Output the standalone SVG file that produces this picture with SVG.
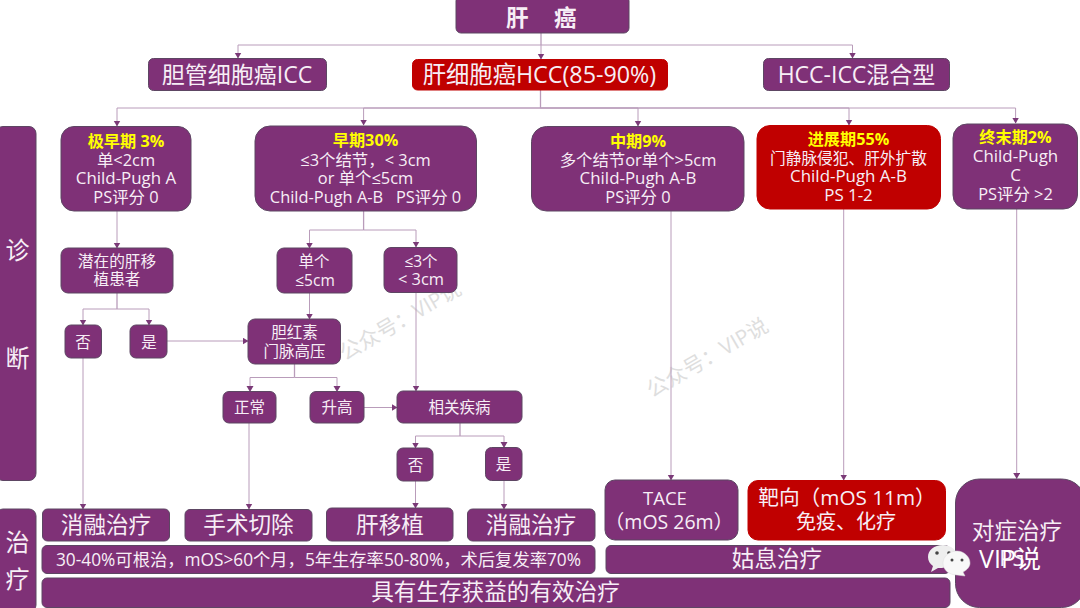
<svg xmlns="http://www.w3.org/2000/svg" width="1080" height="608" viewBox="0 0 1080 608">
<style>
text{font-family:"Open Sans","Noto Sans CJK SC",sans-serif;fill:#f7eef6;text-anchor:middle}
.p{fill:#7f3177;stroke:#5d4663;stroke-width:1}
.r{fill:#c00000;stroke:#c00000;stroke-width:1}
.c path{fill:none;stroke:#b99cba;stroke-width:1.3}
.c .a{stroke-width:1;stroke:#b99cba;marker-end:url(#ah)}
.y{fill:#ffff00;font-weight:700;font-size:16.2px}
.s15{font-size:16.4px}.cj{font-size:15.7px}.la{font-size:16.9px}.sm{font-size:15.5px}.s23{font-size:23px}.s22{font-size:22.6px}.s24{font-size:24px}.s20{font-size:20px}.s17{font-size:17.3px}
.wm{font-size:21px;fill:#c9c9c9;opacity:.6}
</style>
<defs>
<marker id="ah" markerWidth="8" markerHeight="8" refX="5.500" refY="3.500" orient="auto" markerUnits="userSpaceOnUse"><path d="M0 0L6 3.500L0 7Z" fill="#7b3a78"/></marker>
</defs>
<rect width="1080" height="608" fill="#fff"/>
<g id="watermarks">
<text class="wm" transform="translate(404 327) rotate(-30)">公众号：VIP说</text>
<text class="wm" transform="translate(711 364) rotate(-30)">公众号：VIP说</text>
</g>
<g class="c" id="connectors">
<path d="M541 33V45"/>
<path class="a" d="M541 45H238V58"/><path class="a" d="M541 45V59"/><path class="a" d="M541 45H852.500V58"/>
<path d="M540.500 90V108"/>
<path class="a" d="M540 108H117V126"/><path class="a" d="M540 108H363.600V125"/><path class="a" d="M540 108H638V126"/><path class="a" d="M540 108H849V125"/><path class="a" d="M540 108H1015.600V123"/>
<path class="a" d="M117 211V248"/>
<path d="M117 293V309"/><path class="a" d="M117 309H83V325"/><path class="a" d="M117 309H149V325"/>
<path d="M363.600 211V230"/><path class="a" d="M363.600 230H309.500V248"/><path class="a" d="M363.600 230H416V247"/>
<path class="a" d="M309.500 293V319"/>
<path class="a" d="M416 293V391"/>
<path class="a" d="M167 341H248"/>
<path d="M294.500 364V377.500"/><path class="a" d="M294.500 377.500H250V391.500"/><path class="a" d="M294.500 377.500H337V391.500"/>
<path class="a" d="M364 407.500H397"/>
<path d="M460 423V436"/><path class="a" d="M460 436H415.500V448"/><path class="a" d="M460 436H504V447.500"/>
<path class="a" d="M83 358V509"/>
<path class="a" d="M249 423V509"/>
<path class="a" d="M415.500 481V508"/>
<path class="a" d="M504 480.500V509"/>
<path class="a" d="M671 211V480"/>
<path class="a" d="M843.700 209V480"/>
<path class="a" d="M1016.700 209V478.500"/>
</g>
<g id="n-title"><rect class="p" x="456" y="-4" width="173" height="37" rx="5"/><text x="542" y="26" style="font-size:22.5px;font-weight:700;letter-spacing:1.500px">肝　癌</text></g>
<g id="n-icc"><rect class="p" x="148.500" y="58.500" width="178" height="32" rx="5"/><text class="s23" x="237" y="83">胆管细胞癌ICC</text></g>
<g id="n-hcc"><rect class="r" x="412.500" y="59.500" width="255" height="30.500" rx="5"/><text x="539.500" y="83" style="font-size:23.300px">肝细胞癌HCC(85-90%)</text></g>
<g id="n-mix"><rect class="p" x="763.500" y="58.500" width="186" height="32" rx="5"/><text class="s23" x="856.500" y="83">HCC-ICC混合型</text></g>
<g id="n-diag"><rect class="p" x="-4" y="126.500" width="40" height="354" rx="7"/><text class="s24" x="17.500" y="259">诊</text><text class="s24" x="17.500" y="367">断</text></g>
<g id="n-treat"><rect class="p" x="-4" y="509" width="40" height="103" rx="7"/><text class="s24" x="17.500" y="551">治</text><text class="s24" x="17.500" y="588">疗</text></g>
<g id="n-s1"><rect class="p" x="61" y="126.500" width="130" height="84.500" rx="13"/><text class="y" x="126" y="147">极早期 3%</text><text class="s15" x="126" y="166">单&lt;2cm</text><text class="la" x="126" y="184">Child-Pugh A</text><text class="s15" x="126" y="203">PS评分 0</text></g>
<g id="n-s2"><rect class="p" x="255" y="126" width="221.500" height="85" rx="15"/><text class="y" x="365.500" y="146">早期30%</text><text class="s15" x="365.500" y="166">≤3个结节，&lt; 3cm</text><text class="s15" x="365.500" y="184">or 单个≤5cm</text><text class="s15" x="365.500" y="203">Child-Pugh A-B&#160;&#160;&#160;PS评分 0</text></g>
<g id="n-s3"><rect class="p" x="531.500" y="126.500" width="212.500" height="84.500" rx="15"/><text class="y" x="638" y="147">中期9%</text><text class="s15" x="638" y="166">多个结节or单个&gt;5cm</text><text class="la" x="638" y="184">Child-Pugh A-B</text><text class="s15" x="638" y="203">PS评分 0</text></g>
<g id="n-s4"><rect class="r" x="757" y="125.500" width="183.500" height="83.500" rx="13"/><text class="y" x="848.500" y="145">进展期55%</text><text class="cj" x="848.500" y="164">门静脉侵犯、肝外扩散</text><text class="la" x="848.500" y="182">Child-Pugh A-B</text><text class="la" x="848.500" y="201">PS 1-2</text></g>
<g id="n-s5"><rect class="p" x="953" y="124" width="124.500" height="85" rx="14"/><text class="y" x="1015.500" y="143">终末期2%</text><text class="la" x="1015.500" y="162">Child-Pugh</text><text class="la" x="1015.500" y="181">C</text><text class="s15" x="1015.500" y="200">PS评分 &gt;2</text></g>
<g id="n-liver"><rect class="p" x="61" y="248" width="112" height="45" rx="7"/><text class="cj" x="117" y="267">潜在的肝移</text><text class="cj" x="117" y="285">植患者</text></g>
<g id="n-single"><rect class="p" x="277" y="248" width="75" height="45" rx="7"/><text class="sm" x="314" y="267">单个</text><text class="sm" x="315" y="286">≤5cm</text></g>
<g id="n-three"><rect class="p" x="384" y="247.500" width="73" height="45" rx="7"/><text class="sm" x="421" y="267">≤3个</text><text class="s15" x="421" y="285">&lt; 3cm</text></g>
<g id="n-no1"><rect class="p" x="65" y="325" width="36.500" height="33" rx="6"/><text class="sm" x="83" y="348">否</text></g>
<g id="n-yes1"><rect class="p" x="130" y="325" width="37" height="33" rx="6"/><text class="sm" x="149" y="348">是</text></g>
<g id="n-bili"><rect class="p" x="248" y="319" width="92.500" height="45" rx="7"/><text class="sm" x="294.500" y="338">胆红素</text><text class="sm" x="294.500" y="357">门脉高压</text></g>
<g id="n-normal"><rect class="p" x="223" y="391.500" width="53" height="31.500" rx="6"/><text class="sm" x="249.500" y="413">正常</text></g>
<g id="n-high"><rect class="p" x="310" y="391.500" width="54" height="31.500" rx="6"/><text class="sm" x="337" y="413">升高</text></g>
<g id="n-dis"><rect class="p" x="397" y="391" width="125" height="32" rx="6"/><text class="sm" x="459.500" y="413">相关疾病</text></g>
<g id="n-no2"><rect class="p" x="397" y="448" width="36" height="33" rx="6"/><text class="sm" x="415.500" y="471">否</text></g>
<g id="n-yes2"><rect class="p" x="485.500" y="447.500" width="36.500" height="33" rx="6"/><text class="sm" x="503.500" y="470">是</text></g>
<g id="n-abl1"><rect class="p" x="42.500" y="509" width="127" height="32" rx="5"/><text class="s22" x="106" y="533">消融治疗</text></g>
<g id="n-res"><rect class="p" x="185" y="509.500" width="127" height="31.500" rx="5"/><text class="s22" x="248.500" y="533">手术切除</text></g>
<g id="n-trans"><rect class="p" x="326.500" y="508" width="126.500" height="33" rx="5"/><text class="s22" x="390" y="533">肝移植</text></g>
<g id="n-abl2"><rect class="p" x="467.500" y="509" width="127.500" height="32" rx="5"/><text class="s22" x="531" y="533">消融治疗</text></g>
<g id="n-bar1"><rect class="p" x="42" y="545.500" width="553" height="28" rx="5"/><text class="s17" x="318.500" y="566">30-40%可根治，mOS&gt;60个月，5年生存率50-80%，术后复发率70%</text></g>
<g id="n-bar2"><rect class="p" x="42" y="578" width="908" height="29.500" rx="5"/><text class="s22" x="495.500" y="600">具有生存获益的有效治疗</text></g>
<g id="n-tace"><rect class="p" x="605" y="480" width="133" height="60" rx="10"/><text class="s20" x="665" y="505" style="font-size:18.500px">TACE</text><text class="s20" x="669" y="529" style="font-size:19.500px">（mOS 26m）</text></g>
<g id="n-target"><rect class="r" x="748" y="480.500" width="197.500" height="59.500" rx="10"/><text x="847" y="505" style="font-size:20.700px">靶向（mOS 11m）</text><text class="s20" x="846" y="529">免疫、化疗</text></g>
<g id="n-pall"><rect class="p" x="606" y="545.500" width="344" height="28" rx="5"/><text class="s22" x="777" y="567">姑息治疗</text></g>
<g id="n-sym"><rect class="p" x="955.500" y="479" width="130" height="128.500" rx="24"/><text class="s22" x="1017" y="539">对症治疗</text><text x="1012" y="566" style="font-size:22px">PS</text></g>
<g id="wx">
<path d="M943 545c-9 0-15 5-15 12 0 4 2 7 5 9l-2 6 7-4h4l12-3 4-8c-1-7-7-12-15-12z" fill="#eeeeee"/>
<circle cx="937" cy="553" r="1.800" fill="#444"/><circle cx="949" cy="553" r="1.800" fill="#444"/>
<path d="M957 551c-8 0-14 6-14 12 0 7 6 12 14 12l8 1-2-4c4-2 7-5 7-9 0-6-6-12-13-12z" fill="#f8f8f8" stroke="#ddd" stroke-width=".5"/>
<circle cx="952" cy="560" r="1.500" fill="#444"/><circle cx="962" cy="560" r="1.500" fill="#444"/>
<text x="1010" y="568" style="font-size:25px;fill:#fff">VIP说</text>
</g>
</svg>
